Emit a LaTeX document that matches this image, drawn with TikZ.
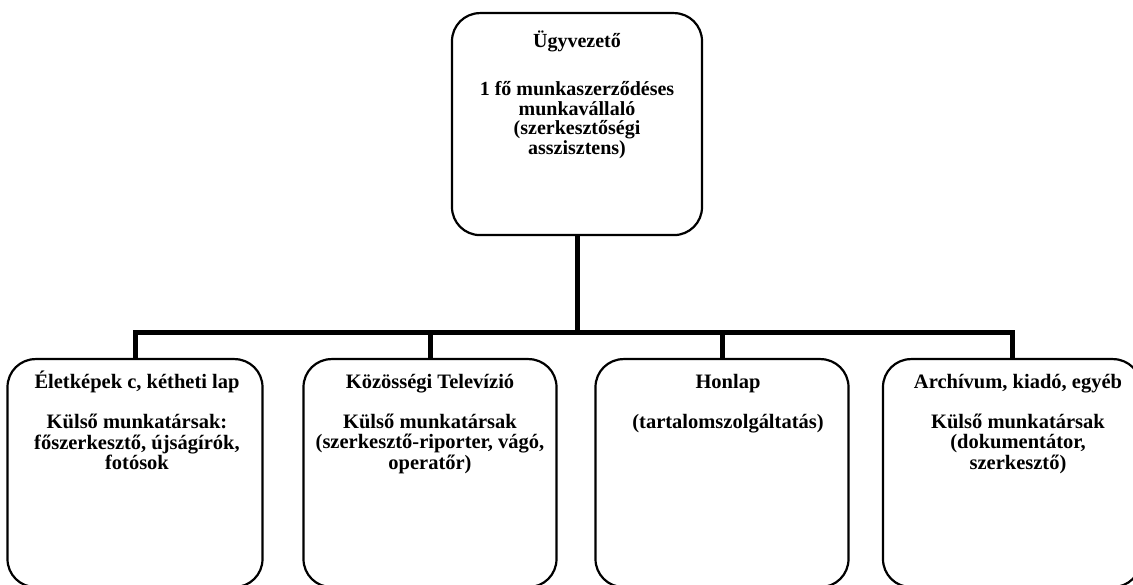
\documentclass[tikz,border=0pt]{standalone}
\usepackage{fontspec}
\setmainfont{Liberation Serif}
\usetikzlibrary{positioning}

\begin{document}
\begin{tikzpicture}[x=1pt,y=-1pt]
\tikzstyle{unit} = [draw, line width=2.2pt, rounded corners=28pt, inner sep=0pt, anchor=north]
\tikzstyle{unittext} = [align=center, inner sep=0pt, anchor=north, font=\bfseries\fontsize{20.5}{20.5}\selectfont]
\tikzstyle{link} = [line width=5pt, line join=miter]
\useasboundingbox (0,0) rectangle (1133,585);
\coordinate (bar) at (0,333);
\node [unit, minimum width=250pt, minimum height=222pt] (boss) at (577,12) {};
\node [unittext, font=\bfseries\fontsize{20}{19.5}\selectfont] (bosstext) at (577,31) {Ügyvezető\\[28.5pt]1 fő munkaszerződéses\\munkavállaló\\(szerkesztőségi\\asszisztens)};
\node [unit, minimum width=255pt, minimum height=228pt] (unit1) at (135,358) {};
\node [unit, minimum width=253pt, minimum height=228pt] (unit2) at (430,358) {};
\node [unit, minimum width=253pt, minimum height=228pt] (unit3) at (722,358) {};
\node [unit, minimum width=258pt, minimum height=228pt] (unit4) at (1012,358) {};
\node [unittext] (text1) at (137,371) {Életképek c, kétheti lap\\[19.5pt]Külső munkatársak:\\főszerkesztő, újságírók,\\fotósok};
\node [unittext] (text2) at (430,374) {Közösségi Televízió\\[19.5pt]Külső munkatársak\\(szerkesztő-riporter, vágó,\\operatőr)};
\node [unittext] (text3) at (728,374) {Honlap\\[19.5pt](tartalomszolgáltatás)};
\node [unittext] (text4) at (1018,374) {Archívum, kiadó, egyéb\\[19.5pt]Külső munkatársak\\(dokumentátor,\\szerkesztő)};
\draw [link] (boss.south) -- (boss.south |- bar);
\draw [link] (unit1.north) -- (unit1.north |- bar) -- (unit4.north |- bar) -- (unit4.north);
\foreach \u in {unit2,unit3}
  \draw [link] (\u.north) -- (\u.north |- bar);
\end{tikzpicture}
\end{document}
